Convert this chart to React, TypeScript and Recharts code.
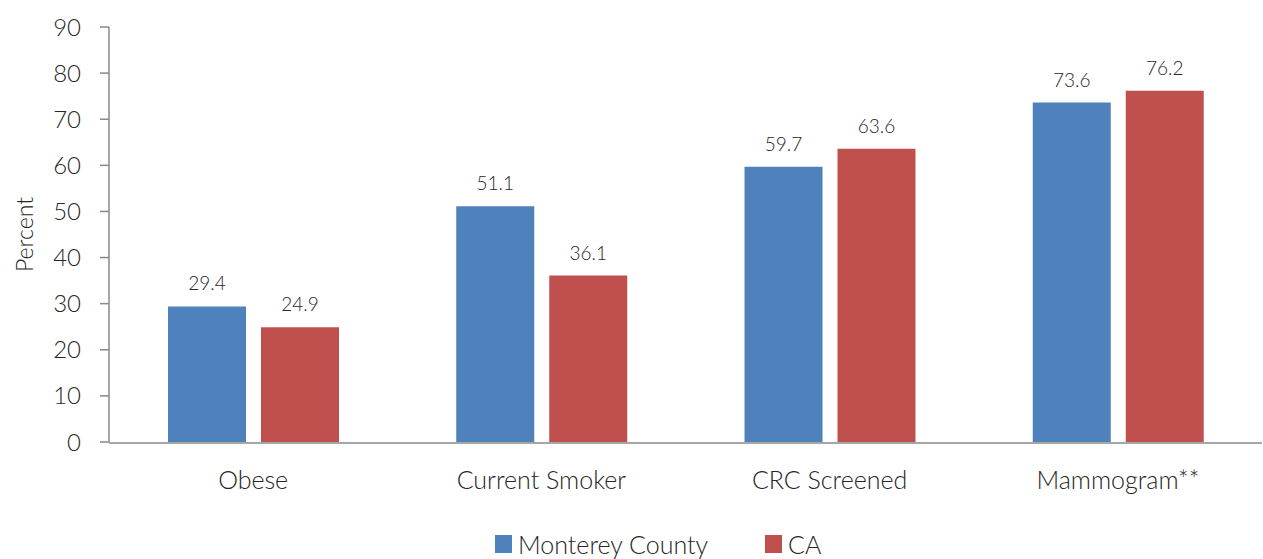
import React from 'react';
import { BarChart, Bar, XAxis, YAxis, Legend, LabelList } from 'recharts';

const categories = ['Obese', 'Current Smoker', 'CRC Screened', 'Mammogram**'];
const montereyValues = [29.4, 51.1, 59.7, 73.6];
const caValues = [24.9, 36.1, 63.6, 76.2];
const yTicks = [0, 10, 20, 30, 40, 50, 60, 70, 80, 90];
const boundaryTicks = [0, 1, 2, 3, 4];
const seriesOrder = ['monterey', 'ca'];
const seriesNames = { monterey: 'Monterey County', ca: 'CA' };

const data = categories.map((name, i) => ({ name, monterey: montereyValues[i], ca: caValues[i] }));

const FONT = 'Lato, "DejaVu Sans", sans-serif';
const TEXT = '#262626';
const AXIS = '#898989';
const BLUE = '#4F81BD';
const RED = '#C0504D';

const renderLegend = (props: any) => {
  const payload = [...(props.payload || [])].sort(
    (a: any, b: any) => seriesOrder.indexOf(a.dataKey) - seriesOrder.indexOf(b.dataKey)
  );
  return (
    <div style={{ display: 'flex', alignItems: 'center', paddingLeft: 495, fontFamily: FONT, fontWeight: 300, fontSize: 25, color: TEXT, height: 31 }}>
      {payload.map((p: any, i: number) => (
        <div key={i} style={{ display: 'flex', alignItems: 'center', marginRight: 57 }}>
          <span style={{ display: 'inline-block', width: 17, height: 18, background: p.color, marginRight: 6 }} />
          <span>{p.value}</span>
        </div>
      ))}
    </div>
  );
};

const PercentLabel = (props: any) => {
  const vb = props.viewBox || {};
  const cx = vb.x + 24;
  const cy = vb.y + vb.height / 2;
  return (
    <text x={cx} y={cy} transform={`rotate(-90 ${cx} ${cy})`} textAnchor="middle" dominantBaseline="central" fontSize={23} fill={TEXT} fontFamily={FONT} fontWeight={300}>
      Percent
    </text>
  );
};

export default function App() {
  return (
    <div>
      <style>{'body{margin:0}'}</style>
      <BarChart width={1263} height={559} data={data} margin={{ top: 27, right: 1, bottom: 0, left: 0 }} barSize={78} barGap={15}>
        <YAxis
          domain={[0, 90]}
          ticks={yTicks}
          interval={0}
          width={109}
          tickSize={9}
          tickMargin={19}
          axisLine={{ stroke: AXIS, strokeWidth: 1.5 }}
          tickLine={{ stroke: AXIS, strokeWidth: 1.5 }}
          tick={{ fontSize: 24, fill: TEXT, fontFamily: FONT, fontWeight: 300 }}
          label={<PercentLabel />}
        />
        <XAxis
          xAxisId="cat"
          dataKey="name"
          height={1}
          interval={0}
          axisLine={false}
          tickLine={false}
          tickMargin={23}
          tick={{ fontSize: 25, fill: TEXT, fontFamily: FONT, fontWeight: 300 }}
        />
        <XAxis
          xAxisId="lines"
          type="number"
          domain={[0, 4]}
          ticks={boundaryTicks}
          allowDataOverflow
          height={85}
          tick={false}
          tickSize={8}
          axisLine={{ stroke: AXIS, strokeWidth: 1.5 }}
          tickLine={{ stroke: AXIS, strokeWidth: 1.5 }}
        />
        <Legend verticalAlign="bottom" height={31} content={renderLegend} />
        <Bar xAxisId="cat" dataKey="monterey" name={seriesNames.monterey} fill={BLUE} isAnimationActive={false}>
          <LabelList dataKey="monterey" position="top" offset={16} style={{ fontSize: 19, fill: TEXT, fontFamily: FONT, fontWeight: 300 }} />
        </Bar>
        <Bar xAxisId="cat" dataKey="ca" name={seriesNames.ca} fill={RED} isAnimationActive={false}>
          <LabelList dataKey="ca" position="top" offset={16} style={{ fontSize: 19, fill: TEXT, fontFamily: FONT, fontWeight: 300 }} />
        </Bar>
      </BarChart>
    </div>
  );
}
